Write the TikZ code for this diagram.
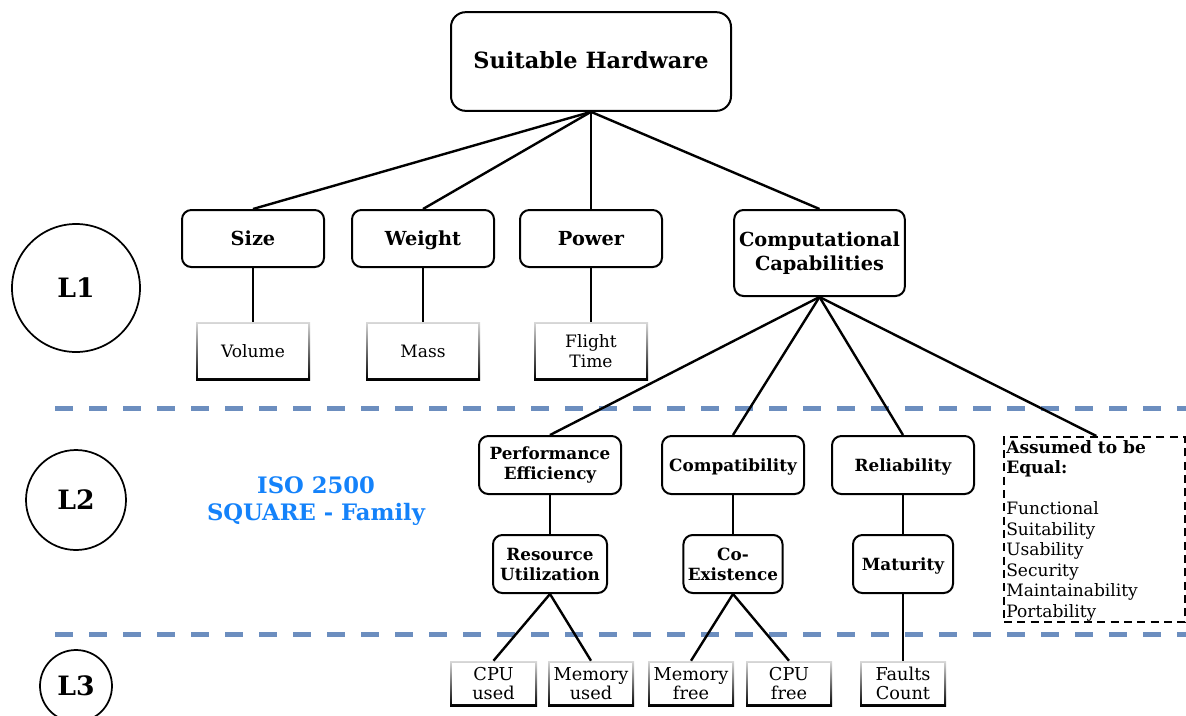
\documentclass[tikz,border=0pt]{standalone}
\usepackage{fontspec}
\setmainfont{DejaVu Serif}
\definecolor{levelblue}{RGB}{108,142,191}
\definecolor{isoblue}{RGB}{20,130,250}
\tikzset{
  box/.style={draw, line width=1.5pt, rounded corners=7pt, align=center, fill=white},
  oneline/.style={text height=2.2ex, text depth=0.3ex},
  leaf/.style={shade, top color=gray!30, middle color=black, bottom color=black,
    align=center, inner sep=0pt,
    path picture={\fill[white] ([shift={(1.3pt,1.3pt)}]path picture bounding box.south west)
      rectangle ([shift={(-1.3pt,-1.3pt)}]path picture bounding box.north east);}},
  level/.style={draw, circle, line width=1.3pt, font=\fontsize{20}{24}\selectfont\bfseries},
  link/.style={line width=1.8pt},
  sep/.style={levelblue, line width=3.75pt, dash pattern=on 13.5pt off 12pt}
}
\begin{document}
\begin{tikzpicture}[x=0.75pt, y=-0.75pt]
    \useasboundingbox (0,0) rectangle (1186,715);

    % Level separators
    \draw[sep] (55,408) -- (1186,408);
    \draw[sep] (55,634) -- (1186,634);

    % Level markers
    \node[level, minimum size=96pt] (lone) at (76,288) {L1};
    \node[level, minimum size=75pt] (ltwo) at (76,500) {L2};
    \node[level, minimum size=54pt] (lthree) at (76,686) {L3};

    % Root
    \node[box, oneline, rounded corners=11pt, minimum width=210pt, minimum height=74pt,
      font=\fontsize{16.8}{20}\selectfont\bfseries] (hw) at (591,61.5) {Suitable Hardware};

    % Level 1 criteria
    \node[box, oneline, minimum width=106.5pt, minimum height=42.75pt,
      font=\fontsize{14.5}{17}\selectfont\bfseries] (size) at (253,238.5) {Size};
    \node[box, oneline, minimum width=106.5pt, minimum height=42.75pt,
      font=\fontsize{14.5}{17}\selectfont\bfseries] (weight) at (423,238.5) {Weight};
    \node[box, oneline, minimum width=106.5pt, minimum height=42.75pt,
      font=\fontsize{14.5}{17}\selectfont\bfseries] (power) at (591,238.5) {Power};
    \node[box, minimum width=128pt, minimum height=64.5pt,
      font=\fontsize{14.5}{18}\selectfont\bfseries] (comp) at (819.5,253) {Computational\\Capabilities};

    % Level 1 metrics
    \node[leaf, minimum width=85.5pt, minimum height=43.5pt,
      font=\fontsize{12.8}{15}\selectfont] (volume) at (253,351) {Volume};
    \node[leaf, minimum width=85.5pt, minimum height=43.5pt,
      font=\fontsize{12.8}{15}\selectfont] (mass) at (423,351) {Mass};
    \node[leaf, minimum width=85.5pt, minimum height=43.5pt,
      font=\fontsize{12.8}{15}\selectfont] (flight) at (591,351) {Flight\\Time};

    % ISO label
    \node[isoblue, align=center, font=\fontsize{17}{20.5}\selectfont\bfseries] (iso) at (316,501) {ISO 2500\\SQUARE - Family};

    % Level 2 characteristics
    \node[box, minimum width=106.5pt, minimum height=43.5pt,
      font=\fontsize{12.6}{15}\selectfont\bfseries] (perf) at (550,465) {Performance\\Efficiency};
    \node[box, oneline, minimum width=106.5pt, minimum height=43.5pt,
      font=\fontsize{12.6}{15}\selectfont\bfseries] (compat) at (733,465) {Compatibility};
    \node[box, oneline, minimum width=106.5pt, minimum height=43.5pt,
      font=\fontsize{12.6}{15}\selectfont\bfseries] (rel) at (903,465) {Reliability};
    \node[draw, line width=1.5pt, dash pattern=on 6pt off 4pt, minimum width=135.75pt, minimum height=138.75pt,
      anchor=north west] (equal) at (1003,436) {};
    \node[anchor=north west, align=left, inner sep=0pt, font=\fontsize{12.8}{15.4}\selectfont] (equaltext) at (1006,440)
      {\textbf{Assumed to be}\\\textbf{Equal:}\\[15.4pt]Functional\\Suitability\\Usability\\Security\\Maintainability\\Portability};

    % Level 2 sub-characteristics
    \node[box, minimum width=85.5pt, minimum height=43.5pt,
      font=\fontsize{12.6}{15}\selectfont\bfseries] (res) at (550,564) {Resource\\Utilization};
    \node[box, minimum width=73.5pt, minimum height=43.5pt,
      font=\fontsize{12.6}{15}\selectfont\bfseries] (coex) at (733,564) {Co-\\Existence};
    \node[box, oneline, minimum width=75pt, minimum height=43.5pt,
      font=\fontsize{12.6}{15}\selectfont\bfseries] (mat) at (903,564) {Maturity};

    % Level 3 metrics
    \node[leaf, minimum width=65.25pt, minimum height=33.75pt,
      font=\fontsize{13.3}{14.5}\selectfont] (cpuused) at (493.5,683.5) {CPU\\used};
    \node[leaf, minimum width=64.5pt, minimum height=33.75pt,
      font=\fontsize{13.3}{14.5}\selectfont] (memused) at (591,683.5) {Memory\\used};
    \node[leaf, minimum width=64.5pt, minimum height=33.75pt,
      font=\fontsize{13.3}{14.5}\selectfont] (memfree) at (691,683.5) {Memory\\free};
    \node[leaf, minimum width=64.5pt, minimum height=33.75pt,
      font=\fontsize{13.3}{14.5}\selectfont] (cpufree) at (789,683.5) {CPU\\free};
    \node[leaf, minimum width=64.5pt, minimum height=33.75pt,
      font=\fontsize{13.3}{14.5}\selectfont] (faults) at (903,683.5) {Faults\\Count};

    % Links
    \draw[link] (hw.south) -- (size.north);
    \draw[link] (hw.south) -- (weight.north);
    \draw[link] (hw.south) -- (power.north);
    \draw[link] (hw.south) -- (comp.north);
    \draw[link] (size) -- (volume);
    \draw[link] (weight) -- (mass);
    \draw[link] (power) -- (flight);
    \draw[link] (comp.south) -- (perf.north);
    \draw[link] (comp.south) -- (compat.north);
    \draw[link] (comp.south) -- (rel.north);
    \draw[link] (comp.south) -- ([xshift=70pt]equal.north west);
    \draw[link] (perf) -- (res);
    \draw[link] (compat) -- (coex);
    \draw[link] (rel) -- (mat);
    \draw[link] (res.south) -- (cpuused.north);
    \draw[link] (res.south) -- (memused.north);
    \draw[link] (coex.south) -- (memfree.north);
    \draw[link] (coex.south) -- (cpufree.north);
    \draw[link] (mat) -- (faults);
\end{tikzpicture}
\end{document}
